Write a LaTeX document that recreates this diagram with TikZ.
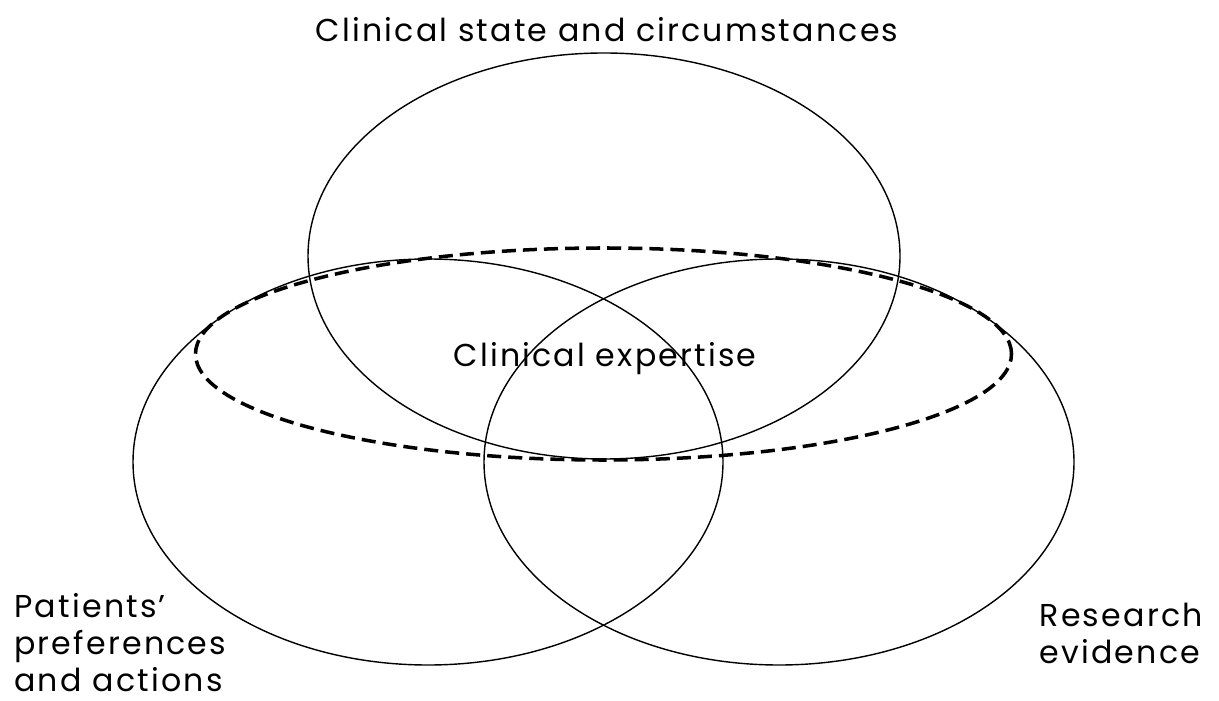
\documentclass[tikz,border=0pt]{standalone}
\usepackage{fontspec}
\setmainfont[LetterSpace=7]{Poppins}
\tikzset{
	venn/.style={line width=0.8pt},
	expert/.style={line width=2pt,dash pattern=on 8pt off 4pt},
	lab/.style={inner sep=0pt,font=\fontsize{18}{21}\selectfont}
}
\begin{document}
\begin{tikzpicture}[x=0.02cm,y=0.02cm]
	\useasboundingbox (0,0) rectangle (1219,700);
	\draw[venn] (604,444) ellipse (296 and 203);
	\draw[venn] (428,238) ellipse (295 and 203);
	\draw[venn] (779,238) ellipse (295 and 203);
	\draw[expert] (603.5,346) ellipse (408 and 106);
	\node[lab,anchor=base] (state) at (607,658) {Clinical state and circumstances};
	\node[lab,anchor=base] (expertise) at (605,333) {Clinical expertise};
	\node[lab,anchor=base west,align=left] (patients) at (14,9) {Patients'\\preferences\\and actions};
	\node[lab,anchor=base east,align=left] (research) at (1203,37) {Research\\evidence};
\end{tikzpicture}
\end{document}
